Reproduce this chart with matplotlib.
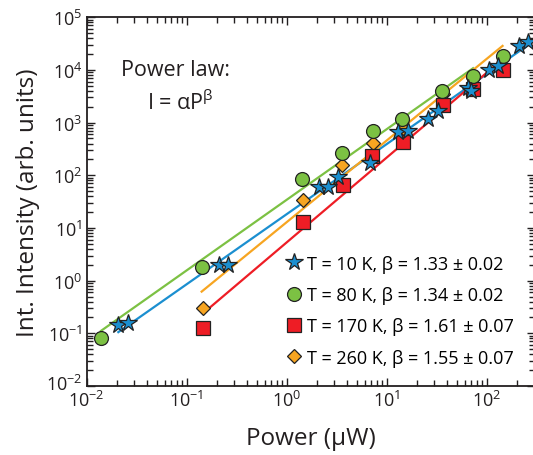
import numpy as np
import matplotlib
matplotlib.use("Agg")
import matplotlib.pyplot as plt
from matplotlib.transforms import ScaledTranslation

plt.rcParams['font.family'] = ['Open Sans', 'DejaVu Sans']
plt.rcParams['mathtext.fontset'] = 'custom'
plt.rcParams['mathtext.rm'] = 'Open Sans'
plt.rcParams['mathtext.it'] = 'Open Sans'

# measured integrated intensity vs excitation power, per temperature
p_10k = [0.0207, 0.0257, 0.209, 0.257, 2.12, 2.59, 3.26, 6.8, 13.1, 16.4,
         25.7, 32.8, 64.6, 70.0, 106, 129, 212, 261]
i_10k = [0.147, 0.155, 2.0, 2.0, 61, 59, 92, 171, 657, 687,
         1175, 1645, 4500, 4000, 10000, 12100, 28000, 33500]

p_80k = [0.0139, 0.143, 1.43, 3.57, 7.3, 14.2, 35.7, 73, 144]
i_80k = [0.082, 1.82, 86, 265, 690, 1170, 4000, 7700, 18200]

p_170k = [0.145, 1.445, 3.68, 7.18, 14.5, 36.3, 73.5, 144.5]
i_170k = [0.127, 12.7, 66, 237, 436, 2170, 4360, 10100]

p_260k = [0.145, 1.44, 3.57, 7.24, 14.4, 36.3, 73.5, 144.5]
i_260k = [0.305, 34.6, 157, 412, 794, 3500, 7050, 18200]

# power-law fits I = alpha * P^beta and the power range each fit spans
alphas = [18.3, 34.3, 5.33, 12.9]
betas = [1.33, 1.34, 1.61, 1.55]
beta_err = [0.02, 0.02, 0.07, 0.07]
fit_range = [(0.0207, 320), (0.0139, 73), (0.145, 140), (0.141, 144)]
temps = [10, 80, 170, 260]

colors = ['#1b8fd0', '#7cc143', '#ee1d25', '#f7a521']
markers = ['*', 'o', 's', 'D']
sizes = [13, 10, 10, 7.2]
series = [(p_10k, i_10k), (p_80k, i_80k), (p_170k, i_170k), (p_260k, i_260k)]

fig = plt.figure(figsize=(5.33, 4.56), dpi=100)
ax = fig.add_axes([0.1627, 0.1513, 1.004 - 0.1627, 0.960 - 0.1513])

for k in range(4):
    lo, hi = fit_range[k]
    pp = np.logspace(np.log10(lo), np.log10(hi), 50)
    ax.plot(pp, alphas[k] * pp ** betas[k], color=colors[k], lw=1.6, zorder=2)

for k in [3, 2, 1, 0]:
    px, iy = series[k]
    ax.plot(px, iy, linestyle='none', marker=markers[k], ms=sizes[k],
            mfc=colors[k], mec='#222222', mew=0.9, zorder=3)

handles = []
for k in range(4):
    h, = ax.plot([], [], linestyle='none', marker=markers[k], ms=sizes[k],
                 mfc=colors[k], mec='#222222', mew=0.9,
                 label='T = %d K, β = %.2f ± %.2f' % (temps[k], betas[k], beta_err[k]))
    handles.append(h)
ax.legend(handles=handles, loc='upper left', bbox_to_anchor=(0.43, 0.376),
          frameon=False, fontsize=13, handlelength=0.8, handletextpad=0.3,
          labelspacing=0.74, borderaxespad=0)

ax.text(0.198, 0.857, 'Power law:', transform=ax.transAxes, fontsize=15.5,
        ha='center', va='center', color='#231f20')
ax.text(0.208, 0.77, 'I = αP$^{\\mathrm{β}}$', transform=ax.transAxes,
        fontsize=15.5, ha='center', va='center', color='#231f20')

ax.set_xscale('log')
ax.set_yscale('log')
ax.set_xlim(1e-2, 10 ** 2.484)
ax.set_ylim(1e-2, 1e5)
ax.set_xticks([1e-2, 1e-1, 1e0, 1e1, 1e2])
ax.set_yticks([1e-2, 1e-1, 1e0, 1e1, 1e2, 1e3, 1e4, 1e5])

ax.tick_params(which='both', direction='in', top=True, right=True,
               colors='#231f20', labelsize=13, width=1.0)
ax.tick_params(which='major', length=6, pad=3)
ax.tick_params(axis='x', which='major', pad=2.5)
ax.tick_params(which='minor', length=4)
for s in ax.spines.values():
    s.set_linewidth(1.3)
    s.set_color('#231f20')

# lift the lowest y label a little so it clears the first x label
low = ax.yaxis.get_major_ticks()[0].label1
low.set_transform(low.get_transform() + ScaledTranslation(0, 3 / 72, fig.dpi_scale_trans))

ax.set_xlabel('Power (μW)', fontsize=17.5, labelpad=12, color='#231f20')
ax.set_ylabel('Int. Intensity (arb. units)', fontsize=17.5, labelpad=4,
              color='#231f20')

fig.savefig('out.png', dpi=100)
